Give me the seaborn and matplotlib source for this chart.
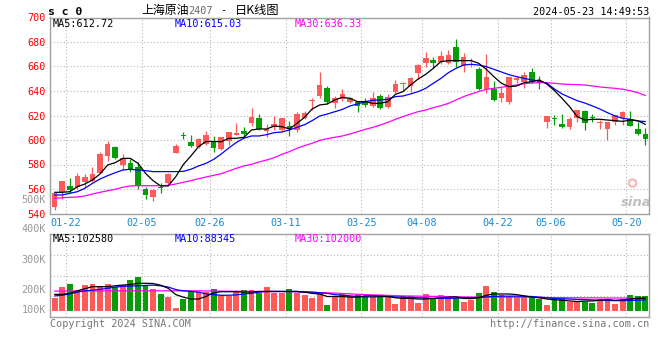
import numpy as np
import pandas as pd
import matplotlib
matplotlib.use("Agg")
import matplotlib.pyplot as plt
import seaborn as sns

# ---------------- data ----------------
tick_labels = ["01-22", "02-05", "02-26", "03-11", "03-25", "04-08", "04-22", "05-06", "05-20"]
tick_idx = [1, 11, 20, 30, 40, 48, 58, 65, 75]

opens = [545.6, 557.8, 562.7, 561.4, 566.0, 566.5, 573.3, 587.0, 594.6, 579.6,
         581.5, 578.2, 560.0, 553.7, 561.9, 564.6, 589.7, 603.8, 598.4, 594.0,
         596.5, 599.5, 592.4, 599.5, 604.1, 607.4, 614.2, 618.2, 607.6, 610.3,
         608.2, 611.7, 608.2, 617.7, 632.1, 636.2, 642.7, 629.9, 633.2, 631.3,
         630.8, 631.8, 628.0, 635.9, 626.7, 638.9, 645.4, 644.4, 654.4, 663.1,
         665.3, 663.4, 662.6, 676.2, 660.7, 662.6, 657.7, 641.4, 641.4, 634.6,
         631.3, 649.0, 647.6, 655.8, 648.4, 615.0, 618.0, 613.1, 610.9, 618.2,
         623.7, 618.8, 613.6, 609.0, 615.0, 618.2, 616.9, 609.0, 604.9]
closes = [556.5, 566.5, 559.2, 570.6, 569.5, 572.3, 588.6, 596.7, 585.0, 585.0,
          576.1, 562.5, 555.4, 559.2, 561.1, 572.3, 595.4, 603.3, 595.4, 600.8,
          604.1, 593.2, 602.2, 606.5, 605.4, 604.9, 619.1, 609.0, 609.0, 612.8,
          617.7, 608.7, 621.2, 621.8, 632.7, 644.9, 631.3, 634.0, 637.6, 634.0,
          627.8, 628.6, 634.0, 626.4, 634.8, 645.4, 646.3, 650.9, 661.2, 667.2,
          662.6, 668.8, 669.4, 663.4, 667.5, 663.1, 641.6, 651.7, 632.7, 638.1,
          651.7, 650.3, 653.1, 647.6, 646.3, 619.6, 617.4, 610.9, 617.1, 624.5,
          614.2, 618.0, 614.4, 614.4, 620.4, 623.1, 611.7, 604.9, 600.8]
highs = [557.6, 566.5, 568.7, 572.8, 572.3, 577.7, 590.5, 599.2, 595.1, 588.6,
         584.2, 582.3, 561.9, 559.7, 564.6, 573.3, 596.7, 606.8, 604.1, 601.4,
         607.4, 603.3, 602.7, 606.8, 613.6, 610.3, 625.9, 621.0, 612.8, 619.6,
         618.2, 615.8, 623.1, 624.0, 634.6, 655.5, 644.1, 635.9, 641.4, 635.4,
         632.1, 634.6, 639.5, 637.3, 637.3, 649.0, 647.6, 651.7, 661.8, 671.6,
         668.0, 672.9, 673.5, 682.5, 671.3, 666.7, 659.3, 670.2, 648.2, 643.0,
         651.7, 652.5, 655.2, 658.5, 652.5, 619.9, 620.4, 621.2, 619.1, 624.5,
         624.5, 621.2, 616.3, 615.0, 620.4, 623.7, 623.7, 615.0, 609.5]
lows = [542.9, 551.6, 556.5, 559.7, 561.9, 566.0, 572.8, 583.1, 584.2, 575.5,
        574.2, 559.7, 551.8, 550.5, 557.0, 564.1, 589.1, 600.8, 594.0, 593.2,
        595.9, 590.5, 591.8, 595.9, 603.8, 602.7, 611.7, 608.2, 602.7, 608.2,
        606.8, 603.3, 606.8, 616.9, 624.5, 634.0, 629.4, 625.9, 632.1, 630.5,
        623.1, 627.2, 627.2, 625.3, 625.9, 638.1, 640.8, 639.5, 649.8, 659.3,
        658.5, 661.8, 662.0, 659.9, 655.8, 659.3, 640.8, 638.6, 631.8, 631.3,
        629.4, 646.3, 642.2, 646.8, 641.6, 610.1, 612.3, 610.1, 609.0, 615.0,
        608.2, 615.0, 609.0, 600.0, 612.3, 612.3, 611.7, 604.1, 595.9]

ma5 = [557.3, 557.3, 557.8, 561.9, 564.1, 567.4, 572.3, 579.6, 581.5, 585.0,
       585.0, 581.0, 572.8, 566.8, 562.5, 562.5, 570.1, 580.0, 587.0, 594.6,
       598.8, 598.8, 598.6, 601.4, 601.4, 602.2, 608.2, 609.0, 609.0, 611.4,
       610.9, 609.0, 613.6, 618.5, 625.3, 628.6, 629.4, 632.7, 634.8, 634.0,
       631.3, 631.3, 629.9, 629.9, 631.3, 637.3, 639.5, 644.9, 649.8, 653.6,
       658.5, 664.0, 664.8, 664.8, 664.8, 664.8, 662.6, 657.7, 651.7, 646.3,
       643.5, 644.1, 646.8, 647.6, 649.0, 645.7, 640.3, 634.0, 627.2, 619.1,
       616.3, 616.9, 616.9, 616.3, 615.8, 615.2, 616.3, 615.8, 612.72]
ma10 = [555.1, 555.1, 556.5, 557.8, 560.6, 564.6, 568.2, 570.9, 573.3, 575.5,
        576.1, 575.5, 575.0, 574.2, 574.2, 574.2, 574.2, 574.4, 576.1, 578.8,
        581.0, 584.2, 588.6, 593.5, 598.0, 601.5, 603.3, 603.3, 604.4, 606.0,
        606.5, 608.2, 610.3, 612.5, 615.8, 619.6, 621.2, 623.1, 625.0, 627.8,
        629.4, 631.3, 632.4, 632.7, 633.2, 635.4, 635.9, 637.6, 639.5, 642.2,
        646.3, 650.3, 655.0, 658.5, 661.2, 661.8, 661.2, 659.9, 657.7, 655.5,
        653.3, 651.7, 650.3, 649.0, 648.2, 646.3, 641.6, 637.6, 634.8, 632.1,
        630.2, 627.8, 625.3, 622.3, 619.6, 617.7, 616.9, 615.5, 615.03]
ma30 = [552.4, 552.9, 553.2, 553.5, 554.3, 555.9, 557.3, 558.6, 559.7, 561.4,
        562.5, 562.7, 562.7, 562.7, 562.7, 563.0, 564.1, 565.5, 566.8, 568.4,
        569.8, 571.2, 572.5, 574.7, 576.9, 578.8, 580.1, 582.1, 583.7, 585.6,
        588.3, 590.5, 593.2, 595.4, 597.3, 599.7, 601.1, 602.2, 603.3, 604.9,
        606.8, 608.7, 610.3, 612.2, 614.4, 616.9, 619.1, 621.2, 623.1, 624.5,
        626.4, 628.0, 629.9, 632.7, 635.4, 637.6, 639.5, 641.4, 642.2, 643.0,
        644.1, 644.9, 646.0, 646.5, 646.8, 646.8, 646.3, 645.7, 645.4, 645.2,
        644.9, 644.1, 643.3, 642.7, 642.2, 641.4, 640.3, 638.6, 636.33]

# volume in thousand lots
volume = [105.6, 192.9, 214.3, 166.7, 206.3, 214.3, 198.4, 214.3, 192.9, 206.3,
          246.0, 272.2, 198.4, 172.2, 134.9, 113.5, 26.2, 92.9, 161.1, 153.2,
          153.2, 172.2, 127.0, 119.0, 158.7, 166.7, 166.7, 140.5, 188.1, 145.2,
          145.2, 172.2, 145.2, 127.0, 105.6, 140.5, 47.6, 108.7, 140.5, 119.0,
          127.0, 119.0, 113.5, 108.7, 108.7, 55.6, 121.4, 119.0, 65.9, 134.9,
          100.8, 127.0, 100.8, 100.8, 73.8, 87.3, 145.2, 198.4, 153.2, 127.0,
          119.0, 108.7, 108.7, 100.8, 92.9, 47.6, 92.9, 92.9, 73.8, 73.8,
          73.8, 65.9, 92.9, 92.9, 55.6, 92.9, 127.0, 119.0, 119.0]
vol_ma5 = [132, 132, 140, 160, 177, 193, 193, 193, 200, 206,
           210, 220, 220, 218, 205, 180, 130, 110, 95, 95,
           115, 145, 153, 153, 153, 150, 150, 155, 155, 155,
           155, 155, 155, 150, 140, 135, 115, 115, 115, 110,
           110, 120, 120, 118, 115, 105, 100, 100, 95, 95,
           100, 105, 110, 112, 100, 98, 105, 125, 135, 135,
           135, 130, 120, 110, 105, 95, 90, 85, 80, 75,
           78, 80, 85, 90, 85, 88, 95, 100, 102.58]
vol_ma10 = [120, 125, 135, 150, 160, 165, 172, 180, 190, 195,
            198, 200, 203, 205, 200, 190, 170, 160, 155, 150,
            135, 130, 125, 125, 128, 135, 140, 150, 155, 155,
            155, 155, 155, 152, 150, 145, 140, 130, 125, 120,
            115, 112, 112, 113, 115, 112, 110, 108, 105, 103,
            100, 100, 100, 102, 105, 105, 108, 112, 115, 118,
            118, 118, 117, 115, 110, 105, 100, 97, 95, 92,
            90, 88, 85, 83, 82, 82, 84, 86, 88.345]
vol_ma30 = [158, 158, 158, 158, 159, 159, 159, 160, 160, 160,
            160, 160, 160, 160, 160, 160, 160, 160, 160, 160,
            159, 158, 158, 157, 157, 156, 156, 155, 155, 155,
            155, 153, 152, 150, 148, 146, 144, 142, 139, 136,
            133, 130, 128, 126, 124, 122, 120, 119, 118, 117,
            116, 115, 114, 113, 112, 111, 110, 110, 110, 110,
            110, 110, 109, 108, 108, 107, 106, 106, 105, 105,
            104, 104, 104, 103, 103, 103, 102, 102, 102.0]

# ---------------- style ----------------
sns.set_theme(style="white")
plt.rcParams['font.family'] = ['DejaVu Sans Mono', 'Noto Sans CJK SC']
plt.rcParams['axes.unicode_minus'] = False

RED = '#ff5a5a'
GREEN = '#089c08'
GRID = '#b8b8b8'
BORDER = '#a0a0a0'
LBL = '#999999'
XBLUE = '#1a88d8'

W, H = 660, 360
fig = plt.figure(figsize=(6.6, 3.6), dpi=100)
fig.patch.set_facecolor('white')


def box(l, t, r, b):
    return [l / W, 1 - b / H, (r - l) / W, (b - t) / H]


def fx(px):
    return px / W


def fy(py):
    return 1 - py / H


ax = fig.add_axes(box(50.3, 17.5, 649.3, 213.5))
axv = fig.add_axes(box(50.3, 234, 649.3, 317))

n = len(closes)
idx = np.arange(n)
df = pd.DataFrame({'i': idx, 'open': opens, 'close': closes, 'high': highs,
                   'low': lows, 'ma5': ma5, 'ma10': ma10, 'ma30': ma30,
                   'vol': volume, 'vma5': vol_ma5, 'vma10': vol_ma10, 'vma30': vol_ma30})
up = df['close'] >= df['open']
colors = np.where(up, RED, GREEN)

xlim = (-0.57, 78.52)
grid_x = [t + 0.5 for t in tick_idx]

# ---------------- main panel ----------------
body_w = 0.74
for i in range(n):
    c = colors[i]
    ax.vlines(i, lows[i], highs[i], color=c, lw=0.9, zorder=3)
    lo = min(opens[i], closes[i])
    h = max(abs(closes[i] - opens[i]), 0.5)
    ax.bar(i, h, bottom=lo, width=body_w, color=c, edgecolor=c, lw=0.0, zorder=4)

sns.lineplot(data=df, x='i', y='ma30', ax=ax, color='#ff00ff', lw=0.9, estimator=None, zorder=5)
sns.lineplot(data=df, x='i', y='ma10', ax=ax, color='#0000ff', lw=0.9, estimator=None, zorder=6)
sns.lineplot(data=df, x='i', y='ma5', ax=ax, color='black', lw=0.9, estimator=None, zorder=7)

ax.set_xlim(*xlim)
ax.set_ylim(540, 700)
ax.set_yticks(np.arange(540, 701, 20))
ax.set_yticklabels([str(v) for v in range(540, 701, 20)], color='#ff0000', fontsize=7.3)
ax.set_xticks(grid_x)
ax.set_xticklabels(tick_labels, color=XBLUE, fontsize=7.3)
ax.tick_params(axis='both', length=0)
ax.tick_params(axis='y', pad=3.2)
ax.tick_params(axis='x', pad=3.3)
ax.set_xlabel('')
ax.set_ylabel('')
ax.grid(True, color=GRID, lw=0.8, ls=(0, (1, 2)))
for s in ax.spines.values():
    s.set_color(BORDER)
    s.set_linewidth(1.0)

# ---------------- volume panel ----------------
axv.bar(idx, volume, width=0.78, color=colors, lw=0, zorder=3)
sns.lineplot(data=df, x='i', y='vma30', ax=axv, color='#ff00ff', lw=0.9, estimator=None, zorder=5)
sns.lineplot(data=df, x='i', y='vma10', ax=axv, color='#0000ff', lw=0.9, estimator=None, zorder=6)
sns.lineplot(data=df, x='i', y='vma5', ax=axv, color='black', lw=0.9, estimator=None, zorder=7)
vlo, vhi = -47.6, 611.1
axv.set_xlim(*xlim)
axv.set_ylim(vlo, vhi)
axv.set_yticks([vlo + (vhi - vlo) * k / 4 for k in range(1, 4)])
axv.set_yticklabels([])
axv.set_xticks(grid_x)
axv.set_xticklabels([])
axv.tick_params(axis='both', length=0)
axv.set_xlabel('')
axv.set_ylabel('')
axv.grid(True, color=GRID, lw=0.8, ls=(0, (1, 2)))
for s in axv.spines.values():
    s.set_color(BORDER)
    s.set_linewidth(1.0)

# ---------------- texts ----------------
FS = 7.3
fig.text(fx(46), fy(200), '500K', color=LBL, fontsize=FS, ha='right', va='center')
for lab, py in zip(['400K', '300K', '200K', '100K'], [229, 260, 290, 310]):
    fig.text(fx(46), fy(py), lab, color=LBL, fontsize=FS, ha='right', va='center')

fig.text(fx(47.5), fy(15.2), 's c 0', color='black', fontsize=8.2, fontweight='bold',
         ha='left', va='baseline')
fig.text(fx(141.5), fy(10.5), '上海原油', color='black', fontsize=8.6,
         family=['Noto Sans CJK SC'], ha='left', va='center')
fig.text(fx(188), fy(11), '2407', color='#666666', fontsize=FS, ha='left', va='center')
fig.text(fx(223.5), fy(10.5), '-', color='black', fontsize=FS, ha='center', va='center')
fig.text(fx(234.5), fy(10.5), '日K线图', color='black', fontsize=8.8,
         family=['Noto Sans CJK SC'], ha='left', va='center')
fig.text(fx(649), fy(12), '2024-05-23 14:49:53', color='black', fontsize=FS,
         ha='right', va='center')

fig.text(fx(53), fy(24), 'MA5:612.72', color='black', fontsize=FS, ha='left', va='center')
fig.text(fx(175), fy(24), 'MA10:615.03', color='#0000ff', fontsize=FS, ha='left', va='center')
fig.text(fx(295), fy(24), 'MA30:636.33', color='#ff00ff', fontsize=FS, ha='left', va='center')

fig.text(fx(53), fy(238.5), 'MA5:102580', color='black', fontsize=FS, ha='left', va='center')
fig.text(fx(175), fy(238.5), 'MA10:88345', color='#0000ff', fontsize=FS, ha='left', va='center')
fig.text(fx(295), fy(238.5), 'MA30:102000', color='#ff00ff', fontsize=FS, ha='left', va='center')

fig.text(fx(49.5), fy(324), 'Copyright 2024 SINA.COM', color='#777777', fontsize=FS,
         ha='left', va='center')
fig.text(fx(649.5), fy(324), 'http://finance.sina.com.cn', color='#777777', fontsize=FS,
         ha='right', va='center')

# watermark (sina logo)
ax.scatter([0.972], [0.155], s=28, marker='o', facecolors='none', edgecolors='#f2a8a8',
           linewidths=1.6, transform=ax.transAxes, zorder=2, alpha=0.8)
fig.text(fx(636), fy(203), 'sina', color='#b0b0b0', fontsize=9.5, fontstyle='italic',
         fontweight='bold', family=['DejaVu Sans'], ha='center', va='center', alpha=0.8)

fig.savefig('out.png', dpi=100, facecolor='white')
